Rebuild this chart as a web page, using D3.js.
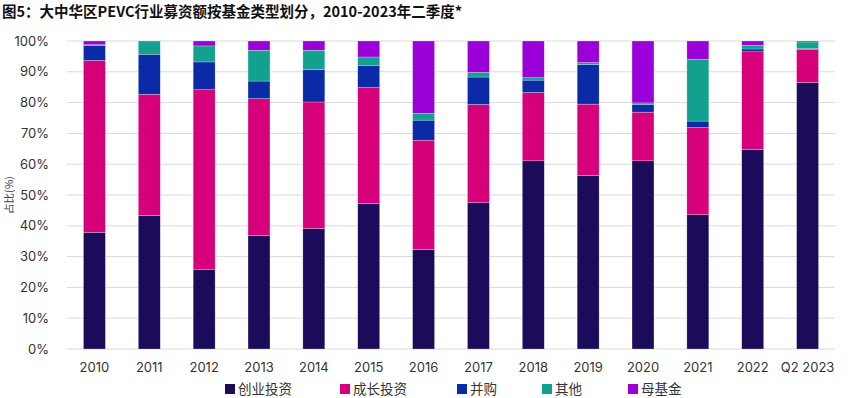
<!DOCTYPE html>
<html>
<head>
<meta charset="utf-8">
<script src="https://cdn.jsdelivr.net/npm/d3@7"></script>
<style>
  body { margin: 0; background: #fff; }
  svg { display: block; font-family: Inter, "Noto Sans CJK SC", sans-serif; }
</style>
</head>
<body>
<div id="chart"></div>
<script>
const years = ["2010","2011","2012","2013","2014","2015","2016","2017","2018","2019","2020","2021","2022","Q2 2023"];
const seriesNames = ["创业投资","成长投资","并购","其他","母基金"];
const colors = ["#1c0a5a","#d6007a","#0a2aa8","#12a08f","#9a00d8"];

const venture  = [37.9,43.3,25.9,36.8,39.1,47.2,32.3,47.5,61.1,56.3,61.1,43.6,64.8,86.5];
const growth   = [55.8,39.4,58.3,44.5,41.1,37.7,35.5,31.9,22.2,23.2,15.8,28.3,31.7,10.8];
const buyout   = [4.9,13.0,9.0,5.7,10.5,7.2,6.5,8.9,4.0,12.9,2.4,2.1,0.9,0.2];
const other    = [0.2,4.3,5.2,10.0,6.3,2.7,2.2,1.5,0.8,0.6,0.6,20.1,1.2,2.2];
const fof      = [1.2,0.0,1.6,3.0,3.0,5.2,23.5,10.2,11.9,7.0,20.1,5.9,1.4,0.3];

const yTicks = [0,10,20,30,40,50,60,70,80,90,100];

const width = 866, height = 398;
const margin = { top: 41, right: 31, bottom: 49, left: 67 };
const innerW = width - margin.left - margin.right;
const innerH = height - margin.top - margin.bottom;

const table = years.map((y, i) => ({
  year: y,
  "创业投资": venture[i], "成长投资": growth[i], "并购": buyout[i], "其他": other[i], "母基金": fof[i]
}));

const svg = d3.select("#chart").append("svg")
  .attr("width", width).attr("height", height);

svg.append("text")
  .attr("x", 2).attr("y", 17)
  .attr("font-size", 14.5).attr("font-weight", 700)
  .attr("fill", "#111")
  .attr("font-family", "\"Noto Sans CJK SC\", sans-serif")
  .text("图5：大中华区PEVC行业募资额按基金类型划分，2010-2023年二季度*");

const g = svg.append("g").attr("transform", `translate(${margin.left},${margin.top})`);

const x = d3.scaleBand().domain(years).range([0, innerW]).paddingInner(0.6).paddingOuter(0.3);
const y = d3.scaleLinear().domain([0, 100]).range([innerH, 0]);

// grid
g.append("g")
  .selectAll("line").data(yTicks).join("line")
  .attr("x1", 0).attr("x2", innerW)
  .attr("y1", d => y(d)).attr("y2", d => y(d))
  .attr("stroke", "#d9d9d9").attr("stroke-width", 1);

const yAxis = g.append("g").call(d3.axisLeft(y).tickValues(yTicks).tickFormat(d => d + "%").tickSize(0).tickPadding(18));
yAxis.select(".domain").remove();
yAxis.selectAll("text").attr("font-size", 13).attr("fill", "#333").attr("font-family", "Inter, sans-serif");

const xAxis = g.append("g").attr("transform", `translate(0,${innerH})`)
  .call(d3.axisBottom(x).tickSize(0).tickPadding(14));
xAxis.select(".domain").remove();
xAxis.selectAll("text").attr("font-size", 13).attr("fill", "#333").attr("font-family", "Inter, sans-serif");

svg.append("text")
  .attr("transform", "translate(13,195) rotate(-90)")
  .attr("text-anchor", "middle")
  .attr("font-size", 10.5).attr("fill", "#444")
  .attr("font-family", "\"Noto Sans CJK SC\", sans-serif")
  .text("占比(%)");

const stacked = d3.stack().keys(seriesNames)(table);

g.append("g").selectAll("g").data(stacked).join("g")
  .attr("fill", (d, i) => colors[i])
  .selectAll("rect").data(d => d).join("rect")
  .attr("x", d => x(d.data.year))
  .attr("width", x.bandwidth())
  .attr("y", d => y(d[1]))
  .attr("height", d => Math.max(0, y(d[0]) - y(d[1])))
  .attr("stroke", "rgba(255,255,255,0.5)")
  .attr("stroke-width", 0.5);

// legend
const legendX = [225, 340, 457, 542, 628];
const legend = svg.append("g").attr("transform", "translate(0,389)");
const items = legend.selectAll("g").data(seriesNames).join("g")
  .attr("transform", (d, i) => `translate(${legendX[i]},0)`);
items.append("rect").attr("x", 0).attr("y", -5).attr("width", 10).attr("height", 10)
  .attr("fill", (d, i) => colors[i]);
items.append("text").attr("x", 13).attr("y", 5)
  .attr("font-size", 13.5).attr("fill", "#333")
  .attr("font-family", "\"Noto Sans CJK SC\", sans-serif")
  .text(d => d);
</script>
</body>
</html>
